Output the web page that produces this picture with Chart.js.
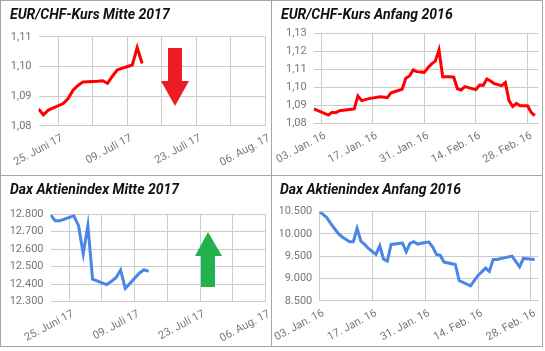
<!DOCTYPE html>
<html>
<head>
<meta charset="utf-8">
<script src="https://cdn.jsdelivr.net/npm/chart.js@4.4.1/dist/chart.umd.min.js"></script>
<style>
  body { margin: 0; background: #fff; }
  #wrap { position: relative; width: 545px; height: 351px; overflow: hidden; }
  .panel { position: absolute; box-sizing: border-box; border: 1px solid #a6a6a6; }
  canvas { position: absolute; }
  svg { position: absolute; left: 0; top: 0; }
</style>
</head>
<body>
<div id="wrap">
  <div class="panel" style="left:0;top:0;width:272px;height:176px"></div>
  <div class="panel" style="left:271px;top:0;width:272px;height:176px"></div>
  <div class="panel" style="left:0;top:175px;width:272px;height:172px"></div>
  <div class="panel" style="left:271px;top:175px;width:272px;height:172px"></div>
  <canvas id="eurMitte" width="270" height="174" style="left:1px;top:1px"></canvas>
  <canvas id="eurAnfang" width="270" height="174" style="left:272px;top:1px"></canvas>
  <canvas id="daxMitte" width="270" height="170" style="left:1px;top:176px"></canvas>
  <canvas id="daxAnfang" width="270" height="170" style="left:272px;top:176px"></canvas>
  <svg width="545" height="351">
    <polygon fill="#ed1c24" points="168,48 182,48 182,81 189,81 175,106 161,81 168,81"/>
    <polygon fill="#22b14c" points="208,232 222,256 215,256 215,287 201,287 201,256 195,256"/>
  </svg>
</div>
<script>
// EUR/CHF-Kurs Mitte 2017
const eurMitteDates = ["2017-06-21", "2017-06-22", "2017-06-23", "2017-06-26", "2017-06-27",
  "2017-06-28", "2017-06-29", "2017-06-30", "2017-07-03", "2017-07-04", "2017-07-05",
  "2017-07-06", "2017-07-07", "2017-07-10", "2017-07-11", "2017-07-12"];
const eurMitteValues = [1.0857, 1.0837, 1.0853, 1.0875, 1.0892, 1.0920, 1.0936, 1.0948,
  1.0950, 1.0952, 1.0943, 1.0968, 1.0989, 1.1005, 1.1064, 1.1010];

// Dax Aktienindex Mitte 2017
const daxMitteDates = eurMitteDates;
const daxMitteValues = [12796, 12763, 12763, 12790, 12734, 12572, 12736, 12428,
  12397, 12415, 12436, 12480, 12375, 12462, 12482, 12472];

// x axis for the two "Mitte 2017" charts: grid every week, label every second week
const mitteTickDates = ["2017-06-25", "2017-07-02", "2017-07-09", "2017-07-16",
  "2017-07-23", "2017-07-30", "2017-08-06"];
const mitteTickLabels = ["25. Juni 17", "", "09. Juli 17", "", "23. Juli 17", "", "06. Aug. 17"];

// EUR/CHF-Kurs Anfang 2016
const eurAnfangDates = ["2016-01-01", "2016-01-05", "2016-01-06", "2016-01-07", "2016-01-08",
  "2016-01-12", "2016-01-13", "2016-01-14", "2016-01-16", "2016-01-19", "2016-01-21",
  "2016-01-22", "2016-01-25", "2016-01-26", "2016-01-27", "2016-01-28", "2016-01-29",
  "2016-01-31", "2016-02-01", "2016-02-02", "2016-02-03", "2016-02-04", "2016-02-05",
  "2016-02-07", "2016-02-08", "2016-02-09", "2016-02-10", "2016-02-11", "2016-02-14",
  "2016-02-15", "2016-02-16", "2016-02-17", "2016-02-18", "2016-02-19", "2016-02-21",
  "2016-02-22", "2016-02-23", "2016-02-24", "2016-02-25", "2016-02-26", "2016-02-28",
  "2016-02-29", "2016-03-01"];
const eurAnfangValues = [1.0880, 1.0846, 1.0861, 1.0859, 1.0870, 1.0880, 1.0952, 1.0926,
  1.0937, 1.0948, 1.0943, 1.0970, 1.0989, 1.1050, 1.1063, 1.1096, 1.1087, 1.1083, 1.1109,
  1.1130, 1.1145, 1.1208, 1.1059, 1.1059, 1.1056, 1.0992, 1.0985, 1.1004, 1.0987, 1.1013,
  1.1011, 1.1046, 1.1035, 1.1020, 1.1009, 1.1026, 1.0926, 1.0893, 1.0911, 1.0898, 1.0898,
  1.0861, 1.0843];

// Dax Aktienindex Anfang 2016
const daxAnfangDates = ["2016-01-03", "2016-01-04", "2016-01-05", "2016-01-06", "2016-01-08",
  "2016-01-09", "2016-01-11", "2016-01-12", "2016-01-13", "2016-01-14", "2016-01-15",
  "2016-01-16", "2016-01-18", "2016-01-19", "2016-01-20", "2016-01-21", "2016-01-22",
  "2016-01-25", "2016-01-26", "2016-01-27", "2016-01-28", "2016-01-29", "2016-01-31",
  "2016-02-01", "2016-02-02", "2016-02-03", "2016-02-04", "2016-02-05", "2016-02-08",
  "2016-02-09", "2016-02-12", "2016-02-14", "2016-02-16", "2016-02-17", "2016-02-18",
  "2016-02-19", "2016-02-23", "2016-02-25", "2016-02-26", "2016-02-29"];
const daxAnfangValues = [10500, 10440, 10365, 10238, 10013, 9938, 9826, 9826, 10125, 9841,
  9766, 9676, 9541, 9736, 9436, 9391, 9766, 9796, 9601, 9788, 9826, 9773, 9810, 9819, 9706,
  9541, 9519, 9369, 9316, 8956, 8836, 9069, 9234, 9159, 9429, 9429, 9504, 9264, 9451, 9429];

// x axis for the two "Anfang 2016" charts
const anfangTickDates = ["2016-01-03", "2016-01-17", "2016-01-31", "2016-02-14", "2016-02-28"];
const anfangTickLabels = ["03. Jan. 16", "17. Jan. 16", "31. Jan. 16", "14. Feb. 16", "28. Feb. 16"];

// y axis ticks
const eurMitteYTicks = [1.08, 1.09, 1.10, 1.11];
const eurAnfangYTicks = [1.08, 1.09, 1.10, 1.11, 1.12, 1.13];
const daxMitteYTicks = [12300, 12400, 12500, 12600, 12700, 12800];
const daxAnfangYTicks = [8500, 9000, 9500, 10000, 10500];

const RED = "#ff0000";
const BLUE = "#4a86e8";
const DAY = 864e5;

function dayOf(base, d) {
  return (Date.parse(d) - Date.parse(base)) / DAY;
}

function fmtKurs(v) {
  return v.toFixed(2).replace(".", ",");
}

function fmtIndex(v) {
  return String(Math.round(v)).replace(/\B(?=(\d{3})+(?!\d))/g, ".");
}

Chart.defaults.font.family = "Roboto, 'Noto Sans', sans-serif";

/**
 * One line chart in its panel. area = chart area inside the canvas.
 */
function makeChart(id, c) {
  const canvas = document.getElementById(id);
  const W = canvas.width, H = canvas.height;
  const base = c.dates[0];
  const points = c.dates.map((d, i) => ({ x: dayOf(base, d), y: c.values[i] }));
  const tickFont = { size: 11 };
  const tickColor = "#777";

  return new Chart(canvas, {
    type: "line",
    data: {
      datasets: [{
        data: points,
        borderColor: c.color,
        borderWidth: 3,
        pointRadius: 0,
        tension: 0,
        fill: false,
      }],
    },
    options: {
      responsive: false,
      animation: false,
      layout: { padding: { left: c.titleX, right: W - c.area.right, top: 0, bottom: 0 } },
      plugins: {
        legend: { display: false },
        tooltip: { enabled: false },
        title: {
          display: true,
          text: c.title,
          align: "start",
          color: "#111",
          font: { size: 14, weight: "bold", style: "italic", lineHeight: 1.2 },
          padding: { top: 6, bottom: c.area.top - 6 - 16.8 },
        },
      },
      scales: {
        x: {
          type: "linear",
          min: 0,
          max: dayOf(base, c.xMax),
          afterBuildTicks: (s) => { s.ticks = c.xTickDates.map((d) => ({ value: dayOf(base, d) })); },
          afterFit: (s) => { s.height = H - c.area.bottom; s.paddingLeft = 0; s.paddingRight = 0; },
          grid: { color: "#cccccc", drawTicks: false },
          border: { display: false },
          ticks: {
            autoSkip: false,
            minRotation: 28,
            maxRotation: 28,
            padding: 6,
            labelOffset: 4,
            color: tickColor,
            font: tickFont,
            callback: (v, i) => c.xTickLabels[i],
          },
        },
        y: {
          min: c.yTicks[0],
          max: c.yTicks[c.yTicks.length - 1],
          afterBuildTicks: (s) => { s.ticks = c.yTicks.map((v) => ({ value: v })); },
          afterFit: (s) => { s.width = c.area.left - c.titleX; s.paddingTop = 0; s.paddingBottom = 0; },
          grid: { color: "#cccccc", drawTicks: false },
          border: { display: false },
          ticks: { padding: 7, color: tickColor, font: tickFont, callback: (v) => c.yFormat(v) },
        },
      },
    },
  });
}

makeChart("eurMitte", {
  title: "EUR/CHF-Kurs Mitte 2017", titleX: 9, color: RED,
  dates: eurMitteDates, values: eurMitteValues, xMax: "2017-08-06",
  xTickDates: mitteTickDates, xTickLabels: mitteTickLabels,
  yTicks: eurMitteYTicks, yFormat: fmtKurs,
  area: { left: 37.5, top: 35.8, right: 264.5, bottom: 124.8 },
});

makeChart("eurAnfang", {
  title: "EUR/CHF-Kurs Anfang 2016", titleX: 9, color: RED,
  dates: eurAnfangDates, values: eurAnfangValues, xMax: "2016-03-02",
  xTickDates: anfangTickDates, xTickLabels: anfangTickLabels,
  yTicks: eurAnfangYTicks, yFormat: fmtKurs,
  area: { left: 41.7, top: 32.3, right: 266.5, bottom: 122.3 },
});

makeChart("daxMitte", {
  title: "Dax Aktienindex Mitte 2017", titleX: 9, color: BLUE,
  dates: daxMitteDates, values: daxMitteValues, xMax: "2017-08-06",
  xTickDates: mitteTickDates, xTickLabels: mitteTickLabels,
  yTicks: daxMitteYTicks, yFormat: fmtIndex,
  area: { left: 49.5, top: 38.2, right: 264.5, bottom: 125.5 },
});

makeChart("daxAnfang", {
  title: "Dax Aktienindex Anfang 2016", titleX: 8, color: BLUE,
  dates: daxAnfangDates, values: daxAnfangValues, xMax: "2016-03-01",
  xTickDates: anfangTickDates, xTickLabels: anfangTickLabels,
  yTicks: daxAnfangYTicks, yFormat: fmtIndex,
  area: { left: 47.3, top: 35.7, right: 266.5, bottom: 124.8 },
});
</script>
</body>
</html>
